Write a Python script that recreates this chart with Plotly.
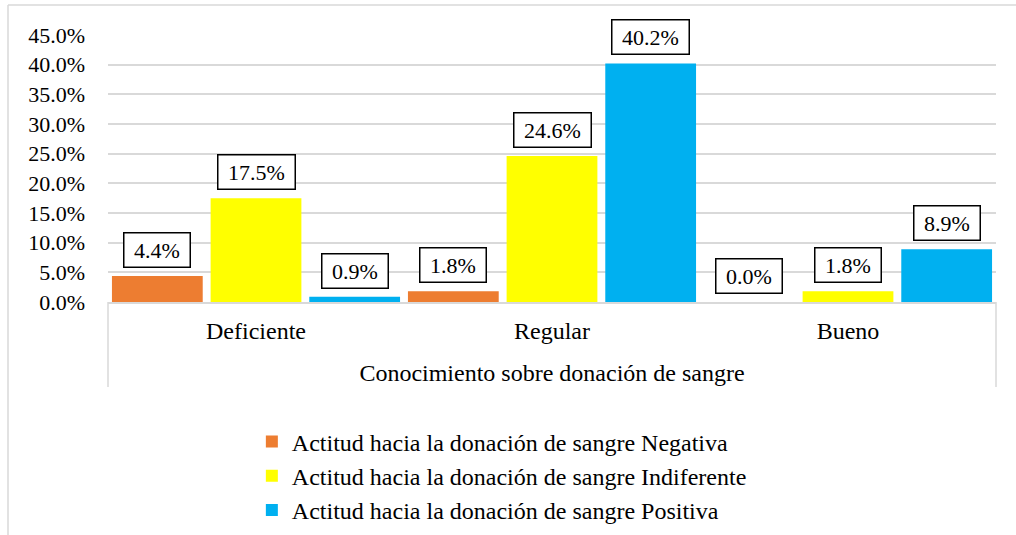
import plotly.graph_objects as go

categories = ["Deficiente", "Regular", "Bueno"]
series_names = [
    "Actitud hacia la donación de sangre Negativa",
    "Actitud hacia la donación de sangre Indiferente",
    "Actitud hacia la donación de sangre Positiva",
]
negativa = [4.4, 1.8, 0.0]
indiferente = [17.5, 24.6, 1.8]
positiva = [0.9, 40.2, 8.9]
colors = ["#ED7D31", "#FFFF00", "#00B0F0"]
y_ticks = [0, 5, 10, 15, 20, 25, 30, 35, 40, 45]
x_title = "Conocimiento sobre donación de sangre"

FONT = "Liberation Serif"
W, H = 1016, 535
L, R, T, B = 108, 20, 35, 233
ph = H - T - B
pw = W - L - R

fig = go.Figure()
all_series = [negativa, indiferente, positiva]
for k, (name, vals, col) in enumerate(zip(series_names, all_series, colors)):
    fig.add_trace(go.Bar(x=categories, y=vals, name=name, legendgroup=f"g{k}",
                         marker=dict(color=col, line=dict(width=0))))

# data labels in boxes
offsets = [-1/3, 0, 1/3]
NB = "\u00a0"
for s, vals in enumerate(all_series):
    for i, v in enumerate(vals):
        fig.add_annotation(
            x=i + offsets[s], y=v, xref="x", yref="y",
            text=f"{NB}{v:.1f}%{NB}", showarrow=False,
            yanchor="bottom", yshift=8,
            font=dict(family=FONT, size=22, color="#000000"),
            bgcolor="#FFFFFF", bordercolor="#000000", borderwidth=1.5, borderpad=4,
        )

grid = "#D9D9D9"
# category axis box vertical lines
ybot = (302 - 387) / ph
fig.add_shape(type="line", xref="paper", yref="paper", x0=0, x1=0, y0=0, y1=ybot, line=dict(color=grid, width=1.5))
fig.add_shape(type="line", xref="paper", yref="paper", x0=1, x1=1, y0=0, y1=ybot, line=dict(color=grid, width=1.5))
# outer chart border (left and top)
bx = (8 - L) / pw
by_top = (H - B - 5) / ph
by_bot = -(B + 5) / ph
fig.add_shape(type="line", xref="paper", yref="paper", x0=bx, x1=bx, y0=by_top, y1=by_bot, line=dict(color=grid, width=1.5))
fig.add_shape(type="line", xref="paper", yref="paper", x0=bx, x1=1.2, y0=by_top, y1=by_top, line=dict(color=grid, width=1.5))

fig.update_layout(
    width=W, height=H,
    margin=dict(l=L, r=R, t=T, b=B, autoexpand=False),
    paper_bgcolor="white", plot_bgcolor="white",
    barmode="group", bargap=0.0, bargroupgap=0.08,
    font=dict(family=FONT, size=22, color="#000000"),
    xaxis=dict(
        type="category", showgrid=False, showline=True, linecolor=grid, linewidth=1.5,
        ticks="", ticklabelstandoff=6,
        tickfont=dict(family=FONT, size=24, color="#000000"),
        title=dict(text=x_title, standoff=22, font=dict(family=FONT, size=24, color="#000000")),
        range=[-0.5, 2.5],
    ),
    yaxis=dict(
        range=[0, 45], tickvals=y_ticks, ticktext=[f"{t:.1f}%" for t in y_ticks],
        showgrid=True, gridcolor=grid, gridwidth=1.5, zeroline=False, showline=False,
        ticks="", ticklabelstandoff=22,
        tickfont=dict(family=FONT, size=22, color="#000000"),
    ),
    legend=dict(
        orientation="v", x=0.162, xanchor="left", y=-0.44, yanchor="top",
        font=dict(family=FONT, size=24, color="#000000"),
        bgcolor="rgba(0,0,0,0)", itemwidth=30, traceorder="grouped", tracegroupgap=0,
    ),
    showlegend=True,
)

fig.write_html("out.html", config={"displayModeBar": False},
               post_script="document.body.style.margin='0';document.body.style.overflow='hidden';")
